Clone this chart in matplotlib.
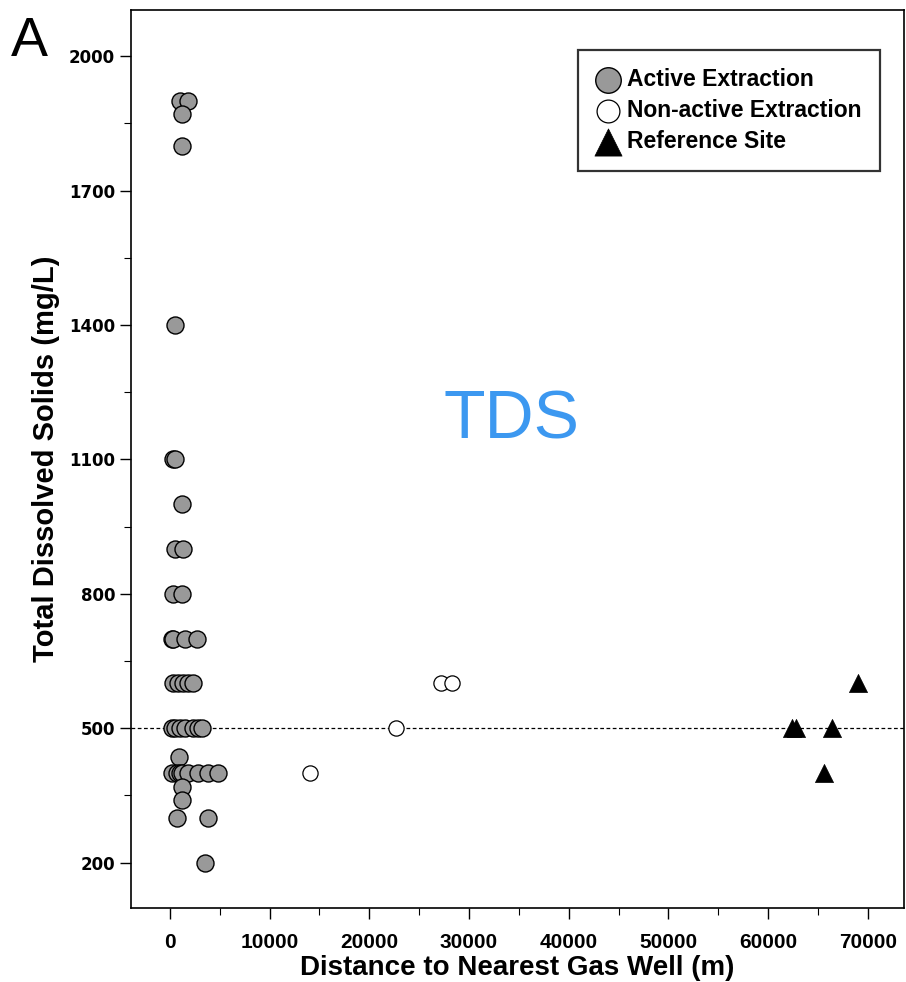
import matplotlib
matplotlib.use("Agg")
import matplotlib.pyplot as plt
from matplotlib.ticker import MultipleLocator, FixedLocator

# Active extraction sites (gray circles)
active_x = [1000, 1800, 1200, 1200, 500, 300, 500, 1200, 500, 1300, 300, 1200,
            170, 300, 1500, 2700,
            300, 800, 1300, 1800, 2300,
            170, 500, 1000, 1500, 2300, 2800, 3200,
            900,
            170, 700, 1000, 1200, 1800, 2800, 3800, 4800,
            1200, 1200, 700, 3800, 3500]
active_y = [1900, 1900, 1870, 1800, 1400, 1100, 1100, 1000, 900, 900, 800, 800,
            700, 700, 700, 700,
            600, 600, 600, 600, 600,
            500, 500, 500, 500, 500, 500, 500,
            435,
            400, 400, 400, 400, 400, 400, 400, 400,
            370, 340, 300, 300, 200]

# Non-active extraction sites (open circles)
nonactive_x = [14000, 22700, 27200, 28300]
nonactive_y = [400, 500, 600, 600]

# Reference sites (triangles)
ref_x = [62400, 62800, 66400, 65600, 69000]
ref_y = [500, 500, 500, 400, 600]

threshold = 500
y_major = [200, 500, 800, 1100, 1400, 1700, 2000]
y_minor = [350, 650, 950, 1250, 1550, 1850]

fig = plt.figure(figsize=(9.06, 9.82), dpi=100)
ax = fig.add_axes([0.1446, 0.0754, 0.853, 0.9144])

ax.axhline(threshold, color='black', linestyle=(0, (3, 2)), linewidth=0.9, zorder=1)

ax.scatter(active_x, active_y, s=150, facecolor='#999999', edgecolor='black',
           linewidth=1.0, zorder=3, label='Active Extraction')
ax.scatter(nonactive_x, nonactive_y, s=120, facecolor='white', edgecolor='black',
           linewidth=0.9, zorder=3, label='Non-active Extraction')
ax.scatter(ref_x, ref_y, s=170, marker='^', facecolor='black', edgecolor='black',
           linewidth=0.5, zorder=3, label='Reference Site')

ax.set_xlim(-3900, 73600)
ax.set_ylim(99, 2103)
ax.xaxis.set_major_locator(MultipleLocator(10000))
ax.xaxis.set_minor_locator(MultipleLocator(5000))
ax.yaxis.set_major_locator(FixedLocator(y_major))
ax.yaxis.set_minor_locator(FixedLocator(y_minor))
ax.tick_params(which='major', direction='out', length=8, width=1.0)
ax.tick_params(which='minor', direction='out', length=5, width=0.8)
ax.tick_params(axis='x', pad=10)

for lab in ax.get_yticklabels():
    lab.set_fontweight('bold')
    lab.set_fontsize(12)
    lab.set_family('DejaVu Sans')
for lab in ax.get_xticklabels():
    lab.set_fontweight('bold')
    lab.set_fontsize(15)
    lab.set_family('Liberation Sans')

for sp in ax.spines.values():
    sp.set_linewidth(1.2)

ax.set_xlabel('Distance to Nearest Gas Well (m)', fontsize=20, fontweight='bold',
              family='Liberation Sans', va='center')
ax.xaxis.set_label_coords(0.5, -0.067)
ax.set_ylabel('Total Dissolved Solids (mg/L)', fontsize=21, fontweight='bold',
              family='Liberation Sans', va='center')
ax.yaxis.set_label_coords(-0.110, 0.5)

fig.text(0.565, 0.572, 'TDS', fontsize=49, color='#3c98f0',
         ha='center', va='center', family='Liberation Sans')
fig.text(0.012, 0.957, 'A', fontsize=40, color='black', ha='left', va='center',
         family='Liberation Sans')

leg = ax.legend(loc='upper right', bbox_to_anchor=(0.969, 0.956), frameon=True,
                fancybox=False, edgecolor='black', prop={'weight': 'bold', 'size': 16.5,
                'family': 'Liberation Sans'}, handletextpad=0.35, borderpad=0.8,
                labelspacing=0.35, markerscale=1.5, handlelength=1.0,
                borderaxespad=0)
leg.get_frame().set_linewidth(1.6)

fig.savefig('out.png', dpi=100)
